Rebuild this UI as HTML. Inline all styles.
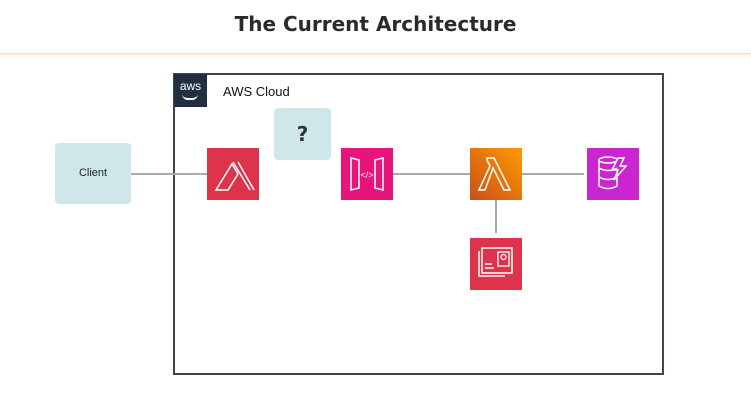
<!DOCTYPE html>
<html><head><style>
body{margin:0;width:751px;height:401px;background:#fff;position:relative;overflow:hidden;font-family:"Liberation Sans",sans-serif}
.hdr{position:absolute;left:0;top:0;width:751px;height:53px;border-bottom:1px solid #d6ebe8;box-shadow:0 2px 5px #f7efc8}
.hdr div{position:absolute;left:0;right:0;top:12px;text-align:center;font:bold 20px "DejaVu Sans",sans-serif;color:#2b2b2b}
.a{position:absolute}
</style></head><body>
<div class="hdr"><div>The Current Architecture</div></div>
<div class="a" style="left:173px;top:73px;width:487px;height:298px;border:2px solid #3d4550"></div>
<div class="a" style="left:174px;top:74px;width:33px;height:33px;background:#232f3e;color:#fff;font-size:12px;text-align:center;line-height:24px">aws<div style="position:absolute;left:8px;top:20px;width:16px;height:4px;border-bottom:2px solid #fff;border-radius:0 0 10px 10px"></div></div>
<div class="a" style="left:223px;top:84px;font-size:13px;color:#111">AWS Cloud</div>
<svg class="a" style="left:0;top:0" width="751" height="401">
<g stroke="#aaa" stroke-width="2"><line x1="131" y1="174" x2="207" y2="174"/><line x1="393" y1="174" x2="470" y2="174"/><line x1="522" y1="174" x2="584" y2="174"/><line x1="496" y1="200" x2="496" y2="233"/></g>
<defs><linearGradient id="lg" x1="0" y1="1" x2="1" y2="0"><stop offset="0" stop-color="#c8511b"/><stop offset="1" stop-color="#f90"/></linearGradient></defs>
<rect x="207" y="148" width="52" height="52" fill="#dd344c"/>
<path d="M216 190 L232 164 L238 174 L228 190 Z M233 162 L250 190 M238 162 L254 190" fill="none" stroke="#fff" stroke-width="1.5"/>
<rect x="341" y="148" width="52" height="52" fill="#e7157b"/>
<path d="M351 158 L359 160 L359 188 L351 190 Z M383 158 L375 160 L375 188 L383 190 Z" fill="none" stroke="#fff" stroke-width="1.5"/>
<text x="367" y="178" font-size="9" fill="#fff" text-anchor="middle" font-family="Liberation Sans">&lt;/&gt;</text>
<rect x="470" y="148" width="52" height="52" fill="url(#lg)"/>
<path d="M487 158 L494 158 L510 190 L504 190 L493 168 L485 190 L479 190 L490 166 L487 160Z" fill="none" stroke="#fff" stroke-width="1.5"/>
<rect x="587" y="148" width="52" height="52" fill="#c925d1"/>
<ellipse cx="608" cy="160" rx="9" ry="3" fill="none" stroke="#fff" stroke-width="1.5"/>
<path d="M599 160 V186 Q608 191 617 186 V172 M599 168 Q608 173 617 168 M599 177 Q608 182 617 177 M618 158 L612 170 L618 170 L614 180 L626 166 L620 166 L624 158Z" fill="none" stroke="#fff" stroke-width="1.5"/>
<rect x="470" y="238" width="52" height="52" fill="#dd344c"/>
<path d="M479 251 V276 H505 M482 248 H512 V273 H482 Z M485 264 H492 M485 268 H494" fill="none" stroke="#fff" stroke-width="1.5"/>
<rect x="498" y="252" width="11" height="14" fill="none" stroke="#fff" stroke-width="1.3"/><circle cx="503.5" cy="257" r="2.5" fill="none" stroke="#fff" stroke-width="1.2"/>
</svg>
<div class="a" style="left:55px;top:143px;width:76px;height:61px;background:#cfe7e9;border-radius:4px;font-size:11px;color:#222;text-align:center;line-height:61px">Client</div>
<div class="a" style="left:274px;top:108px;width:57px;height:52px;background:#cfe7e9;border-radius:4px;font:bold 20px 'DejaVu Sans',sans-serif;color:#333;text-align:center;line-height:52px">?</div>
</body></html>
